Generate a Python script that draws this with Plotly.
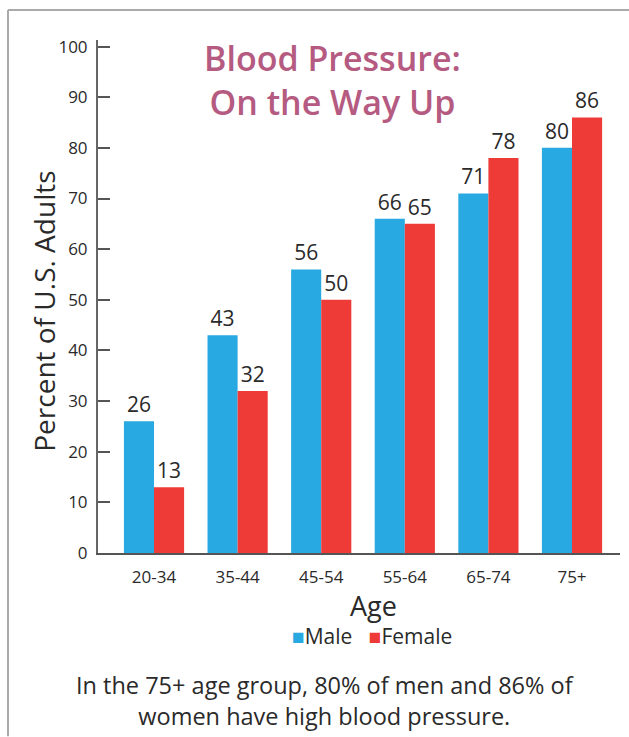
import plotly.graph_objects as go

ages = ["20-34", "35-44", "45-54", "55-64", "65-74", "75+"]
male = [26, 43, 56, 66, 71, 80]
female = [13, 32, 50, 65, 78, 86]
y_ticks = [0, 10, 20, 30, 40, 50, 60, 70, 80, 90, 100]
series_names = ["Male", "Female"]
series_colors = ["#29A9E1", "#EE3B37"]

W, H = 629, 737
ML, MR, MT, MB = 98, 9, 40, 183.5
pw = W - ML - MR
ph = H - MT - MB

def px_x(x):
    return (x - ML) / pw

def px_y(y):
    return (H - MB - y) / ph

FONT = "Open Sans"
TXT = "#2a2a2a"

fig = go.Figure()
for name, vals, col in zip(series_names, [male, female], series_colors):
    fig.add_trace(go.Bar(
        x=ages, y=vals, name=name, marker_color=col, marker_line_width=0,
        text=[str(v) for v in vals], textposition="outside", cliponaxis=False,
        textfont=dict(size=21, color=TXT, family=FONT),
    ))

fig.update_layout(
    width=W, height=H,
    margin=dict(l=ML, r=MR, t=MT, b=MB, pad=0),
    paper_bgcolor="white", plot_bgcolor="white",
    barmode="group", bargap=0.28, bargroupgap=0,
    font=dict(family=FONT, color=TXT),
    showlegend=False,
    xaxis=dict(range=[-0.67, 5.574], showline=True, linecolor="#555", linewidth=2,
               ticks="", tickfont=dict(size=17, color=TXT, family=FONT), showgrid=False,
               ticklabelstandoff=8),
    yaxis=dict(range=[0, 101.3], tickvals=y_ticks, showline=True, linecolor="#666", linewidth=2,
               ticks="inside", ticklen=12, tickwidth=1.5, tickcolor="#555",
               ticklabelstandoff=5,
               tickfont=dict(size=17, color=TXT, family=FONT), showgrid=False, zeroline=False),
)

fig.add_annotation(
    text="Percent of U.S. Adults", xref="paper", yref="paper", x=px_x(44), y=px_y(312),
    xanchor="center", yanchor="middle", textangle=-90, showarrow=False,
    font=dict(size=28, color=TXT, family=FONT),
)

fig.add_annotation(
    text="Blood Pressure:<br>On the Way Up", xref="paper", yref="paper",
    x=px_x(332), y=px_y(80), xanchor="center", yanchor="middle", showarrow=False,
    font=dict(size=34, color="#B55A80", family=FONT, weight=600), align="center",
)

fig.add_annotation(
    text="Age", xref="paper", yref="paper", x=px_x(373), y=px_y(606),
    xanchor="center", yanchor="middle", showarrow=False,
    font=dict(size=27, color=TXT, family=FONT),
)

legend_html = "   ".join(
    f"<span style='color:{c}'>■</span>{n}" for n, c in zip(series_names, series_colors)
)
fig.add_annotation(
    text=legend_html, xref="paper", yref="paper", x=px_x(372), y=px_y(637),
    xanchor="center", yanchor="middle", showarrow=False,
    font=dict(size=21, color=TXT, family=FONT),
)

fig.add_annotation(
    text="In the 75+ age group, 80% of men and 86% of<br>women have high blood pressure.",
    xref="paper", yref="paper", x=px_x(325), y=px_y(701), xanchor="center", yanchor="middle",
    showarrow=False, font=dict(size=23.5, color=TXT, family=FONT), align="center",
)

# frame lines (top and left)
fig.add_shape(type="line", xref="paper", yref="paper", x0=px_x(8), x1=px_x(W), y0=px_y(10), y1=px_y(10),
              line=dict(color="#aaaaaa", width=2))
fig.add_shape(type="line", xref="paper", yref="paper", x0=px_x(8), x1=px_x(8), y0=px_y(10), y1=px_y(H),
              line=dict(color="#aaaaaa", width=2))

fig.write_html("out.html")
